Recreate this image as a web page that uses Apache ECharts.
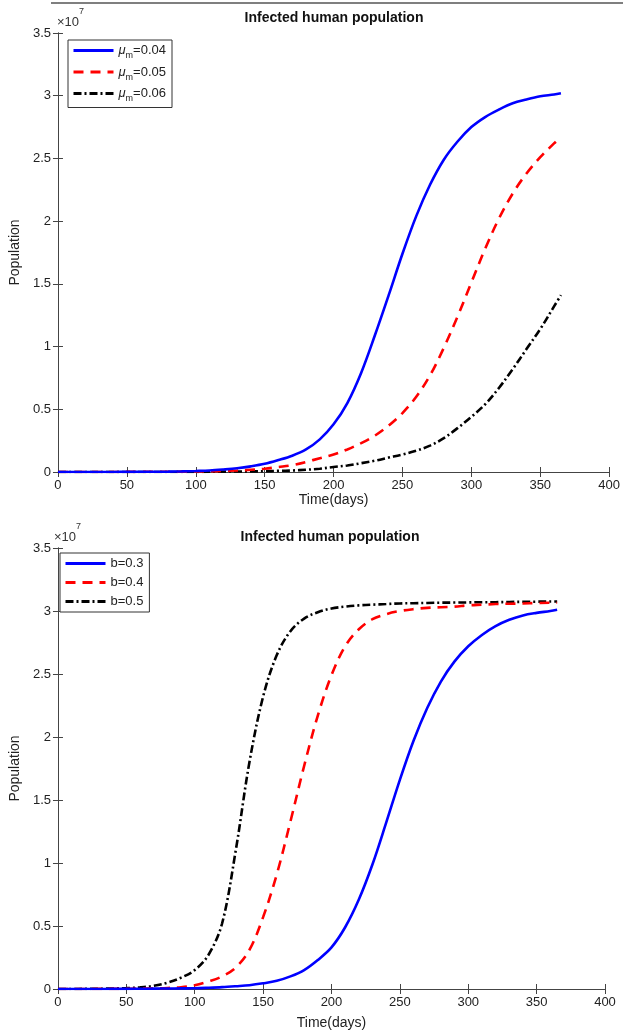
<!DOCTYPE html>
<html>
<head>
<meta charset="utf-8">
<title>Infected human population</title>
<script src="https://cdn.jsdelivr.net/npm/echarts@6/dist/echarts.min.js"></script>
<style>
  html, body { margin: 0; padding: 0; background: #fff; }
  #chart { width: 623px; height: 1032px; }
</style>
</head>
<body>
<div id="chart"></div>
<script>
// days sampled for every curve
const days = [0, 10, 20, 30, 40, 50, 60, 70, 80, 90, 100, 110, 120, 130, 140, 150, 160, 170, 180, 190,
  200, 210, 220, 230, 240, 250, 260, 270, 280, 290, 300, 310, 320, 330, 340, 350, 360, 365]

// top panel: varying mu_m (values in units of 1e7)
const muNames = ['μm=0.04', 'μm=0.05', 'μm=0.06']
const mu004 = [0, 0, 0, 0, 0.0005, 0.001, 0.0015, 0.002, 0.003, 0.005, 0.008, 0.012, 0.02, 0.03, 0.045, 0.065, 0.095, 0.13, 0.18, 0.26,
  0.38, 0.55, 0.79, 1.09, 1.41, 1.74, 2.04, 2.29, 2.49, 2.635, 2.75, 2.83, 2.89, 2.94, 2.97, 2.995, 3.01, 3.02]
const mu005 = [0, 0, 0, 0, 0, 0.001, 0.001, 0.002, 0.002, 0.003, 0.004, 0.006, 0.008, 0.012, 0.018, 0.026, 0.04, 0.055, 0.08, 0.11,
  0.14, 0.18, 0.23, 0.29, 0.37, 0.47, 0.60, 0.77, 0.99, 1.24, 1.51, 1.78, 2.02, 2.22, 2.38, 2.51, 2.62, 2.67]
const mu006 = [0, 0, 0, 0, 0, 0, 0, 0, 0, 0.001, 0.001, 0.002, 0.003, 0.004, 0.005, 0.006, 0.009, 0.012, 0.018, 0.026,
  0.04, 0.052, 0.07, 0.09, 0.115, 0.14, 0.17, 0.21, 0.27, 0.35, 0.44, 0.54, 0.67, 0.82, 0.98, 1.14, 1.32, 1.41]

// bottom panel: varying b
const bNames = ['b=0.3', 'b=0.4', 'b=0.5']
const b03 = [0, 0, 0, 0, 0.001, 0.001, 0.002, 0.003, 0.004, 0.005, 0.006, 0.01, 0.015, 0.022, 0.03, 0.045, 0.065, 0.10, 0.15, 0.23,
  0.33, 0.49, 0.71, 0.99, 1.32, 1.66, 1.97, 2.23, 2.44, 2.60, 2.72, 2.81, 2.88, 2.93, 2.965, 2.985, 3.0, 3.01]
const b04 = [0, 0, 0, 0.001, 0.001, 0.002, 0.003, 0.005, 0.008, 0.014, 0.03, 0.06, 0.10, 0.17, 0.31, 0.57, 0.91, 1.33, 1.77, 2.17,
  2.49, 2.72, 2.855, 2.935, 2.975, 3.00, 3.015, 3.025, 3.03, 3.035, 3.045, 3.05, 3.055, 3.058, 3.06, 3.063, 3.065, 3.065]
const b05 = [0, 0, 0.001, 0.002, 0.004, 0.007, 0.013, 0.025, 0.05, 0.09, 0.15, 0.27, 0.52, 1.10, 1.80, 2.32, 2.65, 2.84, 2.94, 2.99,
  3.02, 3.035, 3.045, 3.05, 3.055, 3.06, 3.062, 3.064, 3.066, 3.067, 3.068, 3.07, 3.07, 3.072, 3.073, 3.074, 3.075, 3.075]

const xTicks = { min: 0, max: 400, interval: 50 }
const yTicks = { min: 0, max: 3.5, interval: 0.5 }

const axisColor = '#444'
const font = 'Liberation Sans, Arial, sans-serif'

const lineStyles = [
  { color: '#0000ff', width: 2.6, type: 'solid' },
  { color: '#ff0000', width: 2.6, type: [10, 7] },
  { color: '#000000', width: 2.6, type: [8, 3, 2, 3] }
]

const pairs = (ys) => days.map((d, i) => [d, ys[i]])

const chart = echarts.init(document.getElementById('chart'), null, { renderer: 'canvas' })

const grids = [
  { left: 57, top: 33, width: 555, height: 439 },
  { left: 54, top: 548, width: 551, height: 441 }
]

const mainX = (gi, gap) => ({
  type: 'value', gridIndex: gi, ...xTicks,
  name: 'Time(days)', nameLocation: 'middle', nameGap: gap,
  nameTextStyle: { fontFamily: font, fontSize: 14, color: '#222' },
  axisLine: { show: true, lineStyle: { color: axisColor, width: 1 } },
  axisTick: { show: true, inside: true, length: 5, lineStyle: { color: axisColor } },
  axisLabel: { fontFamily: font, fontSize: 13, color: '#222', margin: 7 },
  splitLine: { show: false }
})
const boxX = (gi) => ({
  type: 'value', gridIndex: gi, position: 'top', ...xTicks,
  axisLine: { show: true, lineStyle: { color: axisColor, width: 1 } },
  axisTick: { show: true, inside: true, length: 5, lineStyle: { color: axisColor } },
  axisLabel: { show: false }, splitLine: { show: false }
})
const mainY = (gi) => ({
  type: 'value', gridIndex: gi, ...yTicks,
  name: 'Population', nameLocation: 'middle', nameGap: 31,
  nameTextStyle: { fontFamily: font, fontSize: 14, color: '#222' },
  axisLine: { show: true, lineStyle: { color: axisColor, width: 1 } },
  axisTick: { show: true, inside: true, length: 5, lineStyle: { color: axisColor } },
  axisLabel: { fontFamily: font, fontSize: 13, color: '#222', margin: 7 },
  splitLine: { show: false }
})
const boxY = (gi) => ({
  type: 'value', gridIndex: gi, position: 'right', ...yTicks,
  axisLine: { show: true, lineStyle: { color: axisColor, width: 1 } },
  axisTick: { show: true, inside: true, length: 5, lineStyle: { color: axisColor } },
  axisLabel: { show: false }, splitLine: { show: false }
})

const makeSeries = (names, sets, axisIdx) => names.map((n, i) => ({
  name: n, type: 'line', xAxisIndex: axisIdx, yAxisIndex: axisIdx,
  data: pairs(sets[i]), showSymbol: false, symbol: 'none',
  smooth: 0.35,
  lineStyle: lineStyles[i], itemStyle: { color: lineStyles[i].color },
  z: 10 - i
}))

const legendText = {
  fontFamily: font, fontSize: 13, color: '#222',
  rich: {
    i: { fontFamily: font, fontSize: 13, fontStyle: 'italic', color: '#222', lineHeight: 20, verticalAlign: 'middle' },
    s: { fontFamily: font, fontSize: 9, color: '#222', lineHeight: 11, verticalAlign: 'bottom' },
    t: { fontFamily: font, fontSize: 13, color: '#222', lineHeight: 20, verticalAlign: 'middle' }
  }
}

const legendBase = {
  orient: 'vertical', itemWidth: 40, itemHeight: 12, itemGap: 5,
  borderColor: '#333', borderWidth: 1, backgroundColor: '#fff',
  itemStyle: { opacity: 0 },
  lineStyle: { width: 3 },
  z: 20
}

const titleText = (x, y) => ({
  type: 'text', x: x, y: y,
  style: { text: 'Infected human population', font: 'bold 14px ' + font, fill: '#111', align: 'center', verticalAlign: 'middle' }
})
const expText = (x, y) => ({
  type: 'text', x: x, y: y,
  style: {
    text: '{a|×10}{b|7}', fill: '#333',
    rich: {
      a: { fontFamily: font, fontSize: 13, fill: '#333', lineHeight: 16, verticalAlign: 'bottom' },
      b: { fontFamily: font, fontSize: 9, fill: '#333', lineHeight: 22, verticalAlign: 'top' }
    }
  }
})

chart.setOption({
  animation: false,
  backgroundColor: '#fff',
  grid: grids,
  xAxis: [mainX(0, 21), boxX(0), mainX(1, 27), boxX(1)],
  yAxis: [mainY(0), boxY(0), mainY(1), boxY(1)],
  legend: [
    Object.assign({}, legendBase, {
      left: 68, top: 40, padding: [4, 6, 4, 4], data: muNames,
      formatter: (n) => '{i|μ}{s|m}{t|' + n.slice(2) + '}',
      textStyle: legendText
    }),
    Object.assign({}, legendBase, {
      left: 60, top: 553, padding: [4, 6, 4, 4], itemGap: 6, data: bNames,
      textStyle: { fontFamily: font, fontSize: 13, color: '#222' }
    })
  ],
  graphic: [
    { type: 'line', shape: { x1: 51, y1: 3, x2: 623, y2: 3 }, style: { stroke: '#555', lineWidth: 1.5 } },
    titleText(334, 18),
    titleText(330, 537),
    expText(57, 7),
    expText(54, 522)
  ],
  series: [
    ...makeSeries(muNames, [mu004, mu005, mu006], 0),
    ...makeSeries(bNames, [b03, b04, b05], 2)
  ]
})
</script>
</body>
</html>
